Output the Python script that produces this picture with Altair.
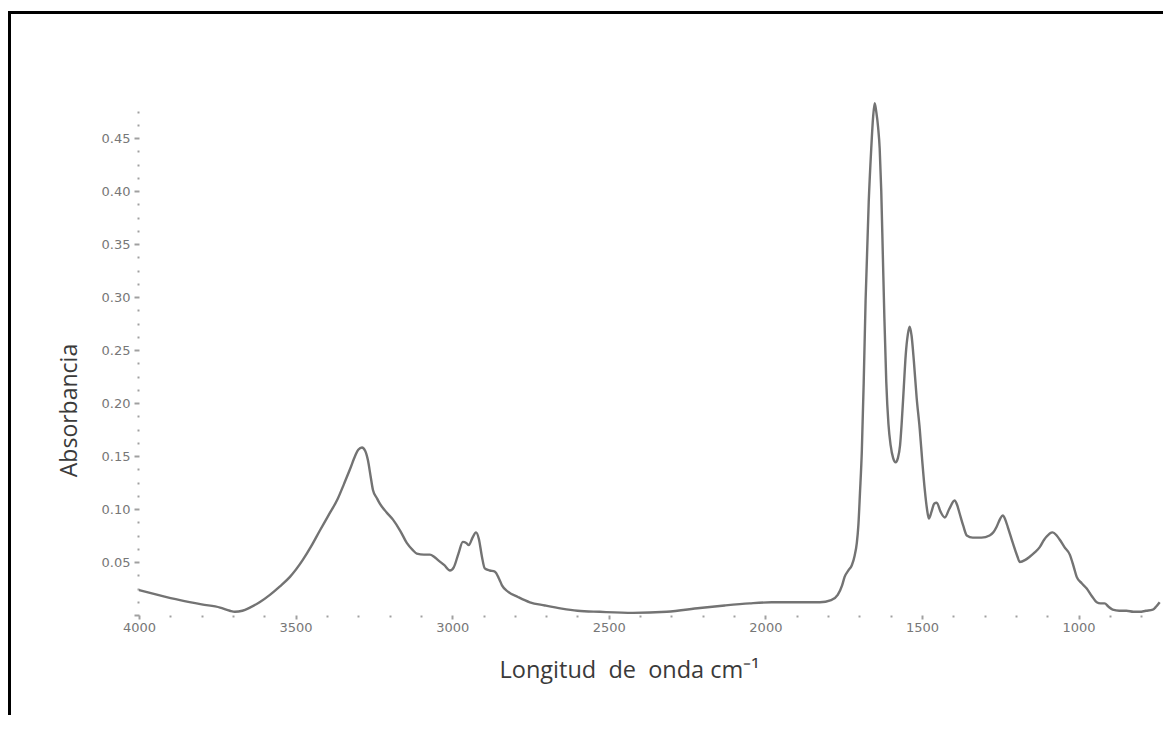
import altair as alt
import pandas as pd

wavenumber = [4000, 3940, 3869, 3800, 3741, 3710, 3694, 3670, 3646, 3615, 3582, 3550, 3518, 3477, 3450,
              3422, 3395, 3365, 3345, 3327, 3310, 3300, 3288, 3278, 3269, 3260, 3253, 3240, 3231, 3210,
              3189, 3165, 3145, 3125, 3113, 3090, 3071, 3058, 3046, 3025, 3007, 2995, 2980, 2966, 2955,
              2947, 2935, 2924, 2915, 2905, 2896, 2880, 2864, 2850, 2841, 2822, 2790, 2752, 2704, 2650,
              2600, 2529, 2423, 2315, 2209, 2130, 2050, 1980, 1890, 1826, 1790, 1769, 1755, 1747, 1735,
              1724, 1715, 1708, 1703, 1698, 1692, 1686, 1680, 1670, 1662, 1656, 1651, 1646, 1640,
              1635, 1630, 1625, 1620, 1614, 1607, 1600, 1592, 1584, 1577, 1570, 1565, 1558, 1552,
              1545, 1539, 1533, 1526, 1517, 1507, 1499, 1491, 1484, 1478, 1470, 1461, 1453, 1440, 1427,
              1413, 1396, 1388, 1380, 1368, 1357, 1338, 1310, 1284, 1272, 1262, 1250, 1242, 1234, 1226,
              1210, 1195, 1188, 1170, 1156, 1140, 1124, 1110, 1102, 1092, 1083, 1070, 1060, 1045, 1028,
              1015, 1006, 990, 974, 958, 942, 930, 917, 905, 891, 870, 847, 825, 805, 785,
              763, 752, 741]
absorbance = [0.0236, 0.019, 0.014, 0.010, 0.007, 0.004, 0.003, 0.004, 0.007, 0.012, 0.019, 0.027, 0.036, 0.052, 0.065,
              0.080, 0.094, 0.110, 0.124, 0.137, 0.150, 0.156, 0.158, 0.155, 0.146, 0.130, 0.118, 0.110, 0.105, 0.097,
              0.090, 0.079, 0.068, 0.061, 0.058, 0.057, 0.057, 0.055, 0.052, 0.047, 0.042, 0.045, 0.058, 0.069, 0.068,
              0.066, 0.073, 0.078, 0.072, 0.055, 0.044, 0.042, 0.041, 0.034, 0.028, 0.022, 0.017, 0.012, 0.009, 0.006,
              0.004, 0.003, 0.002, 0.003, 0.0066, 0.009, 0.011, 0.012, 0.012, 0.012, 0.014, 0.019, 0.028, 0.036, 0.042,
              0.047, 0.056, 0.068, 0.085, 0.115, 0.155, 0.220, 0.297, 0.390, 0.440, 0.470, 0.483, 0.475, 0.460,
              0.440, 0.400, 0.340, 0.280, 0.220, 0.180, 0.160, 0.148, 0.144, 0.148, 0.160, 0.180, 0.215, 0.245,
              0.265, 0.272, 0.263, 0.240, 0.205, 0.175, 0.145, 0.118, 0.100, 0.091, 0.097, 0.105, 0.106, 0.097, 0.092,
              0.100, 0.108, 0.104, 0.096, 0.084, 0.075, 0.073, 0.073, 0.075, 0.078, 0.083, 0.091, 0.094, 0.090, 0.083,
              0.068, 0.055, 0.050, 0.052, 0.055, 0.059, 0.064, 0.071, 0.074, 0.077, 0.078, 0.075, 0.071, 0.064, 0.057,
              0.045, 0.036, 0.030, 0.025, 0.018, 0.012, 0.011, 0.011, 0.008, 0.005, 0.004, 0.004, 0.003, 0.003, 0.004,
              0.005, 0.008, 0.012]

x_tick_values = list(range(4000, 739, -100))
y_tick_values = [round(i * 0.0125, 4) for i in range(0, 39)]
x_title = "Longitud\u00a0 de\u00a0 onda cm\u207b\u00b9"
y_title = "Absorbancia"

df = pd.DataFrame({"wn": wavenumber, "A": absorbance})

W, H = 1021, 514
PAD_L, PAD_T = 131, 93

x_axis = alt.Axis(
    values=x_tick_values,
    format="d",
    labelExpr="datum.value % 500 === 0 ? datum.label : ''",
    domain=False, grid=False,
    tickSize=4, tickWidth=2, tickColor="#a0a0a0",
    tickDash={"condition": {"test": "datum.value % 500 !== 0", "value": [2, 20]}, "value": [20, 0]},
    labelFont="DejaVu Sans", labelFontSize=13, labelColor="#777777", labelPadding=2,
    labelOverlap=False, labelFlush=False, labelBound=False,
    title=x_title, titleFont="Open Sans", titleFontSize=23.5, titleFontWeight="normal",
    titleColor="#3a3a3a", titleX=490, titleY=62, titleAlign="center", titleBaseline="alphabetic",
    titleAnchor="start",
)
y_axis = alt.Axis(
    values=y_tick_values,
    labelExpr="datum.value > 0 && round(datum.value * 10000) % 500 === 0 ? format(datum.value, '.2f') : ''",
    domain=False, grid=False,
    tickSize=5, tickWidth=2, tickColor="#a0a0a0",
    tickDash={"condition": {"test": "round(datum.value * 10000) % 500 !== 0", "value": [2, 20]}, "value": [20, 0]},
    labelFont="DejaVu Sans", labelFontSize=13, labelColor="#777777", labelPadding=4,
    labelOverlap=False, labelFlush=False, labelBound=False,
    title=y_title, titleFont="Open Sans", titleFontSize=23, titleFontWeight="normal",
    titleColor="#3a3a3a", titleX=-63, titleY=309, titleAngle=270, titleAlign="center",
    titleBaseline="alphabetic", titleAnchor="start",
)

line = alt.Chart(df).mark_line(color="#737373", strokeWidth=2.4, interpolate="monotone").encode(
    x=alt.X("wn:Q", scale=alt.Scale(domain=[4000, 740], nice=False, zero=False), axis=x_axis),
    y=alt.Y("A:Q", scale=alt.Scale(domain=[0, 0.485], nice=False, zero=True), axis=y_axis),
)

frame_left = alt.Chart(df).mark_rule(color="black", strokeWidth=3, clip=False).encode(
    x=alt.value(-PAD_L + 1.5), y=alt.value(-PAD_T + 3), y2=alt.value(H + 200)
)
frame_top = alt.Chart(df).mark_rule(color="black", strokeWidth=3, clip=False).encode(
    x=alt.value(-PAD_L), x2=alt.value(W + 100), y=alt.value(-PAD_T + 4.5)
)

chart = alt.layer(line, frame_left, frame_top).properties(
    width=W, height=H,
    background="white",
    autosize=alt.AutoSizeParams(type="none"),
    padding={"left": PAD_L, "top": PAD_T, "right": 3, "bottom": 100},
).configure_view(stroke="transparent", strokeWidth=0)

chart.save("out.html", embed_options={"renderer": "svg", "actions": False})
